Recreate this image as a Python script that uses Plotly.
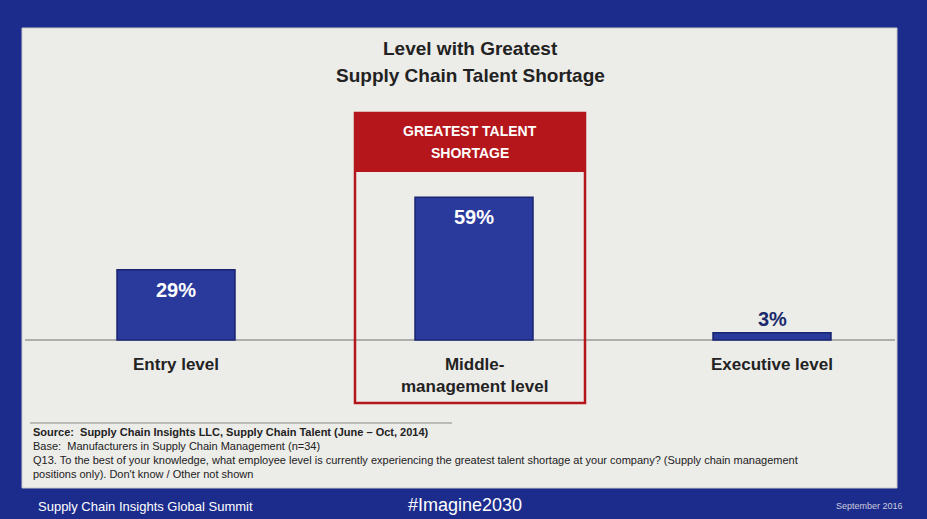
import plotly.graph_objects as go

categories = ["Entry level", "Middle-<br>management level", "Executive level"]
values = [29, 59, 3]
value_labels = ["29%", "59%", "3%"]

W, H = 927, 519
L, R, T, B = 25, 32, 98, 99
pw, ph = W - L - R, H - T - B
def px(x): return (x - L) / pw
def py(y): return 1 - (y - T) / ph

fig = go.Figure()
fig.add_trace(go.Bar(x=[0, 1, 2], y=values, width=0.396,
                     marker=dict(color="#2a3a9c", line=dict(color="#1a2570", width=1.5)),
                     hoverinfo="skip"))

ann = []
for i, (v, t) in enumerate(zip(values, value_labels)):
    if v > 10:
        ann.append(dict(x=i, y=v, text="<b>" + t + "</b>", yanchor="top", yshift=-7, showarrow=False,
                        font=dict(size=20, color="white", family="Liberation Sans")))
    else:
        ann.append(dict(x=i, y=v, text="<b>" + t + "</b>", yanchor="bottom", yshift=1, showarrow=False,
                        font=dict(size=20, color="#1a2a6c", family="Liberation Sans")))
    ann.append(dict(x=i, y=0, text="<b>" + categories[i] + "</b>", yanchor="top", yshift=-13,
                    showarrow=False, font=dict(size=17, color="#222", family="Liberation Sans")))

def t(x, y, text, size, color="#222", xa="left", bold=False):
    ann.append(dict(x=px(x), y=py(y), xref="paper", yref="paper", text=("<b>%s</b>" % text) if bold else text,
                    showarrow=False, xanchor=xa, yanchor="middle",
                    font=dict(size=size, color=color, family="Liberation Sans")))

t(470, 48, "Level with Greatest", 19, xa="center", bold=True)
t(470, 75, "Supply Chain Talent Shortage", 19, xa="center", bold=True)
t(470, 131, "GREATEST TALENT", 14, "white", "center", True)
t(470, 153, "SHORTAGE", 14, "white", "center", True)
t(31, 432, "Source:  Supply Chain Insights LLC, Supply Chain Talent (June – Oct, 2014)", 11, bold=True)
t(31, 446, "Base:  Manufacturers in Supply Chain Management (n=34)", 11)
t(31, 460, "Q13. To the best of your knowledge, what employee level is currently experiencing the greatest talent shortage at your company? (Supply chain management", 11)
t(31, 474, "positions only). Don't know / Other not shown", 11)
t(36, 506, "Supply Chain Insights Global Summit", 13, "white")
t(465, 505, "#Imagine2030", 18, "white", "center")
t(905, 506, "September 2016", 9, "#ccd", "right")

shapes = [
    dict(type="rect", xref="paper", yref="paper", x0=px(22), x1=px(897), y0=py(28), y1=py(488),
         fillcolor="#ecece9", line=dict(color="#c8c8c8", width=1), layer="below"),
    dict(type="rect", xref="paper", yref="paper", x0=px(355), x1=px(585), y0=py(113), y1=py(172),
         fillcolor="#b4161b", line=dict(width=0), layer="below"),
    dict(type="rect", xref="paper", yref="paper", x0=px(355), x1=px(585), y0=py(113), y1=py(403),
         fillcolor="rgba(0,0,0,0)", line=dict(color="#b4161b", width=2.5)),
    dict(type="line", xref="paper", yref="y", x0=px(25), x1=px(895), y0=0, y1=0,
         line=dict(color="#9a9a9a", width=1.5), layer="below"),
    dict(type="line", xref="paper", yref="paper", x0=px(30), x1=px(452), y0=py(423), y1=py(423),
         line=dict(color="#888", width=1)),
]

fig.update_layout(width=W, height=H, margin=dict(l=L, r=R, t=T, b=B),
                  paper_bgcolor="#1c2c8c", plot_bgcolor="rgba(0,0,0,0)", showlegend=False,
                  xaxis=dict(range=[(L - 176) / 298, (W - R - 176) / 298], visible=False, fixedrange=True),
                  yaxis=dict(range=[-(420 - 340) / 2.42, 100], visible=False, fixedrange=True),
                  annotations=ann, shapes=shapes)
fig.write_html("out.html", config={"displayModeBar": False},
               post_script="document.body.style.margin='0';document.body.style.background='#1c2c8c';")
